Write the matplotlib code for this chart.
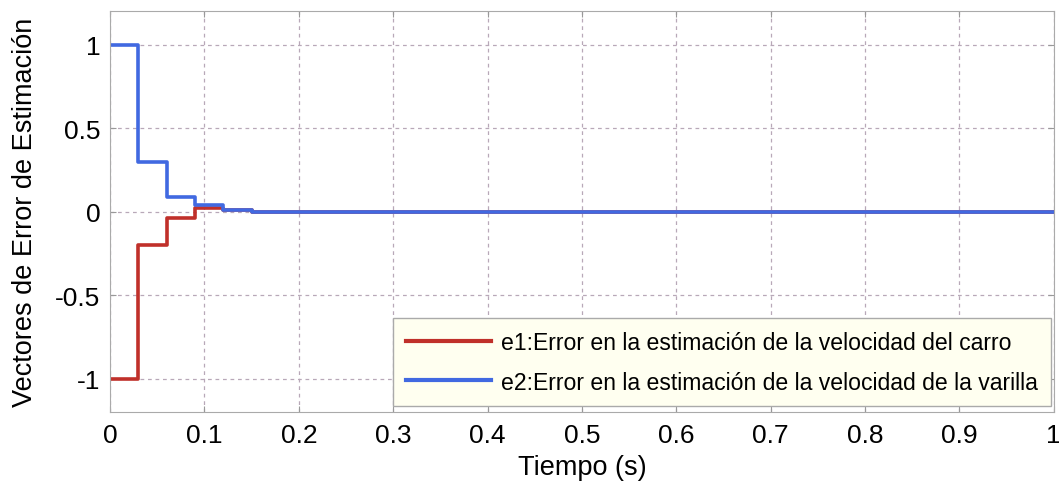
import matplotlib
matplotlib.use("Agg")
import matplotlib.pyplot as plt

# Step sequences of the estimation errors (zero-order hold, Ts = 0.03 s)
t_steps = [0.0, 0.03, 0.06, 0.09, 0.12, 0.15, 1.0]
e1_vals = [-1.0, -0.20, -0.04, 0.02, 0.01, 0.0, 0.0]
e2_vals = [1.0, 0.30, 0.09, 0.04, 0.01, 0.0, 0.0]

x_ticks = [0, 0.1, 0.2, 0.3, 0.4, 0.5, 0.6, 0.7, 0.8, 0.9, 1]
x_tick_labels = ["0", "0.1", "0.2", "0.3", "0.4", "0.5", "0.6", "0.7", "0.8", "0.9", "1"]
y_ticks = [-1, -0.5, 0, 0.5, 1]
y_tick_labels = ["-1", "-0.5", "0", "0.5", "1"]

label_e1 = "e1:Error en la estimación de la velocidad del carro"
label_e2 = "e2:Error en la estimación de la velocidad de la varilla"

plt.rcParams["font.family"] = ["Liberation Sans", "DejaVu Sans"]

fig = plt.figure(figsize=(10.59, 4.89), dpi=100)
ax = fig.add_axes([0.104, 0.155, 0.891, 0.82])

ax.step(t_steps, e1_vals, where="post", color="#c0302a", lw=2.6, label=label_e1)
ax.step(t_steps, e2_vals, where="post", color="#4169e1", lw=2.6, label=label_e2)

ax.set_xlim(0, 1)
ax.set_ylim(-1.2, 1.2)
ax.set_xticks(x_ticks)
ax.set_xticklabels(x_tick_labels)
ax.set_yticks(y_ticks)
ax.set_yticklabels(y_tick_labels)
ax.tick_params(direction="in", length=4, color="#999999", labelsize=19,
               top=True, right=True)
ax.tick_params(axis="x", pad=8)
ax.tick_params(axis="y", pad=7)

ax.grid(True, linestyle=(0, (3, 3)), color="#b8a8b8", linewidth=0.9)
for s in ax.spines.values():
    s.set_color("#aaaaaa")

ax.set_xlabel("Tiempo (s)", fontsize=19.5, labelpad=5)
ax.set_ylabel("Vectores de Error de Estimación", fontsize=19.5, labelpad=12)

leg = ax.legend(loc="lower right", fontsize=16.6, handlelength=3.7,
                handletextpad=0.45, frameon=True, fancybox=False,
                borderpad=0.55, labelspacing=0.72, borderaxespad=0.0,
                bbox_to_anchor=(0.997, 0.015))
leg.get_frame().set_facecolor("#fffff0")
leg.get_frame().set_edgecolor("#aaaaaa")
leg.get_frame().set_alpha(1)
for line in leg.get_lines():
    line.set_linewidth(3.0)

fig.savefig("out.png", dpi=100)
